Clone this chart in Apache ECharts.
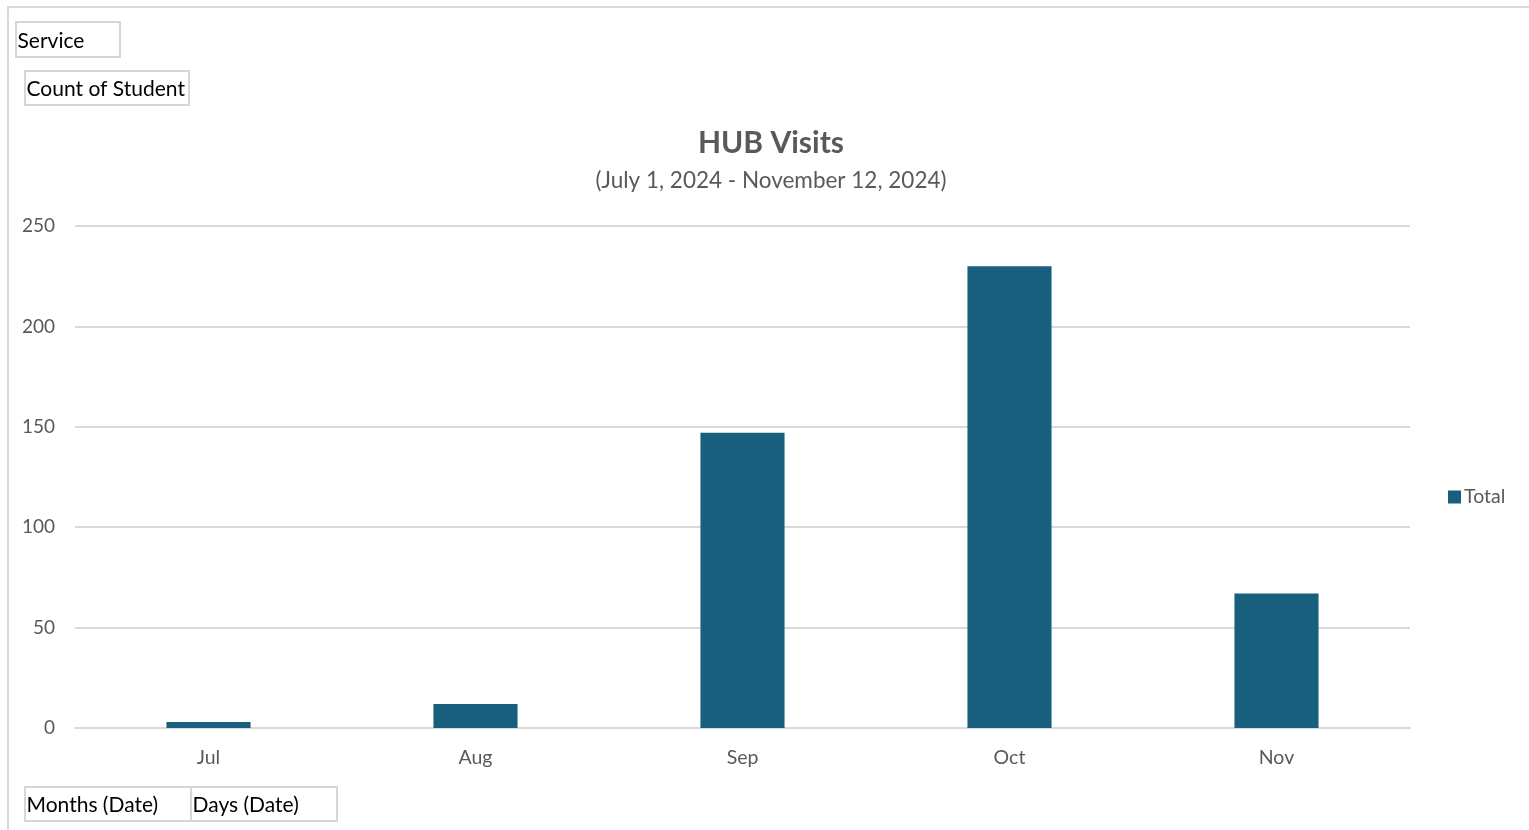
<!DOCTYPE html>
<html>
<head>
<meta charset="utf-8">
<style>
  html, body { margin: 0; padding: 0; background: #ffffff; }
  #chart { width: 1529px; height: 830px; }
</style>
<script src="https://cdn.jsdelivr.net/npm/echarts@6/dist/echarts.min.js"></script>
</head>
<body>
<div id="chart"></div>
<script>
// HUB Visits by month
const months = ['Jul', 'Aug', 'Sep', 'Oct', 'Nov'];
const totals = [3, 12, 147, 230, 67];
const yTicks = { min: 0, max: 250, interval: 50 };

const barColor = '#185f7e';
const textGray = '#595959';
const gridGray = '#d9d9d9';
const fontFamily = 'Lato, "Open Sans", "Noto Sans", sans-serif';

// pivot-field buttons
function fieldButton(x, y, w, h, label) {
  return {
    type: 'group',
    left: x, top: y,
    children: [
      { type: 'rect', shape: { x: 0, y: 0, width: w, height: h },
        style: { fill: '#ffffff', stroke: '#d6d6d6', lineWidth: 2 } },
      { type: 'text', x: 1.5, y: h / 2 + 1.5,
        style: { text: label, fill: '#000000', font: '21px ' + fontFamily, verticalAlign: 'middle' } }
    ]
  };
}

const chart = echarts.init(document.getElementById('chart'));
chart.setOption({
  animation: false,
  backgroundColor: '#ffffff',
  title: {
    text: 'HUB Visits',
    subtext: '(July 1, 2024 - November 12, 2024)',
    left: 766, top: 123, textAlign: 'center',
    itemGap: 11,
    textStyle: { color: textGray, fontSize: 30, fontWeight: 'bold', fontFamily: fontFamily },
    subtextStyle: { color: textGray, fontSize: 22.5, fontFamily: fontFamily }
  },
  legend: {
    data: ['Total'],
    left: 1443, top: 482,
    itemWidth: 13, itemHeight: 13, itemGap: 5,
    icon: 'rect',
    textStyle: { color: textGray, fontSize: 19.5, fontFamily: fontFamily, padding: [0, 0, 0, -2] }
  },
  grid: { left: 75, right: 119, top: 226, bottom: 102, containLabel: false },
  xAxis: {
    type: 'category',
    data: months,
    axisLine: { lineStyle: { color: gridGray, width: 2 } },
    axisTick: { show: false },
    axisLabel: { color: textGray, fontSize: 19.5, fontFamily: fontFamily, margin: 20 }
  },
  yAxis: {
    type: 'value',
    min: yTicks.min, max: yTicks.max, interval: yTicks.interval,
    axisLine: { show: false },
    axisTick: { show: false },
    splitLine: { lineStyle: { color: gridGray, width: 2 } },
    axisLabel: { color: textGray, fontSize: 19, fontFamily: fontFamily, margin: 20 }
  },
  series: [{
    name: 'Total',
    type: 'bar',
    data: totals,
    barWidth: '31.5%',
    itemStyle: { color: barColor }
  }],
  graphic: [
    // outer frame
    { type: 'polyline', shape: { points: [[8, 830], [8, 7], [1529, 7]] },
      style: { stroke: '#d9d9d9', lineWidth: 2, fill: null } },
    fieldButton(15, 21, 104, 35, 'Service'),
    fieldButton(24, 70, 164, 34, 'Count of Student'),
    fieldButton(24, 786, 166, 34, 'Months (Date)'),
    fieldButton(190, 786, 146, 34, 'Days (Date)')
  ]
});
</script>
</body>
</html>
